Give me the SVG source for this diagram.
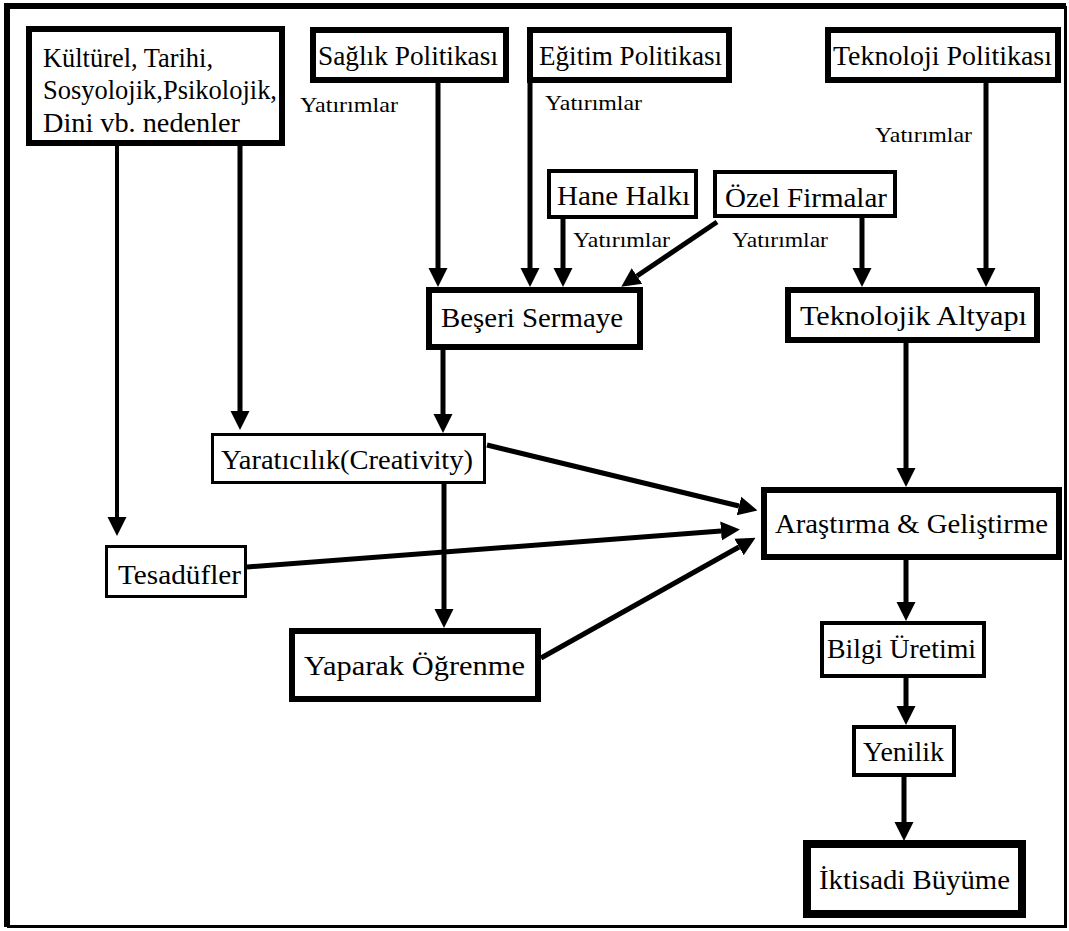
<svg xmlns="http://www.w3.org/2000/svg" width="1069" height="931" viewBox="0 0 1069 931">
<style>
.n{fill:#fff;stroke:#000}
.t{font-family:"Liberation Serif","Times New Roman",serif;font-size:27px;fill:#000}
.y{font-family:"Liberation Serif","Times New Roman",serif;font-size:21px;fill:#000}
.c line{stroke:#000;stroke-width:5;marker-end:url(#ah)}
</style>
<defs>
<marker id="ah" viewBox="0 0 10 10" refX="0" refY="5" markerUnits="userSpaceOnUse" markerWidth="19" markerHeight="30" orient="auto">
<path d="M0,0 L10,5 L0,10 z" fill="#000"/>
</marker>
</defs>
<rect x="0" y="0" width="1069" height="931" fill="#fff"/>
<g id="frame" fill="none" stroke="#000">
<path d="M7,927 V6 H1066" stroke-width="6"/>
<path d="M1065.5,6 V926.5 H7" stroke-width="3"/>
</g>
<g class="c" id="connectors">
<line x1="117" y1="146" x2="117" y2="517" style="stroke-width:4"/>
<line x1="240" y1="146" x2="240" y2="411"/>
<line x1="438" y1="83" x2="438" y2="268"/>
<line x1="530" y1="83" x2="530" y2="268"/>
<line x1="563" y1="219" x2="563" y2="268"/>
<line x1="717" y1="222" x2="637" y2="276"/>
<line x1="862" y1="218" x2="862" y2="268"/>
<line x1="986" y1="83" x2="986" y2="268"/>
<line x1="443" y1="350" x2="443" y2="414"/>
<line x1="906" y1="343" x2="906" y2="468"/>
<line x1="444" y1="484" x2="444" y2="609"/>
<line x1="487" y1="445" x2="739" y2="506"/>
<line x1="247" y1="567" x2="721" y2="531"/>
<line x1="541" y1="658" x2="739" y2="547"/>
<line x1="906" y1="560" x2="906" y2="602"/>
<line x1="906" y1="678" x2="906" y2="706"/>
<line x1="904" y1="777" x2="904" y2="822"/>
</g>
<g id="kulturel"><rect class="n" x="29" y="29" width="253" height="114" stroke-width="6"/>
<text class="t" x="43" y="67" textLength="170" lengthAdjust="spacingAndGlyphs">Kültürel, Tarihi,</text>
<text class="t" x="43" y="99" textLength="234" lengthAdjust="spacingAndGlyphs">Sosyolojik,Psikolojik,</text>
<text class="t" x="43" y="132" textLength="197" lengthAdjust="spacingAndGlyphs">Dini vb. nedenler</text></g>
<g id="saglik"><rect class="n" x="313" y="30" width="193" height="50" stroke-width="6"/>
<text class="t" x="318" y="65" textLength="180" lengthAdjust="spacingAndGlyphs">Sağlık Politikası</text></g>
<g id="egitim"><rect class="n" x="530" y="30" width="199" height="50" stroke-width="6"/>
<text class="t" x="539" y="65" textLength="183" lengthAdjust="spacingAndGlyphs">Eğitim Politikası</text></g>
<g id="teknoloji"><rect class="n" x="828" y="30" width="230" height="50" stroke-width="6"/>
<text class="t" x="833" y="65" textLength="219" lengthAdjust="spacingAndGlyphs">Teknoloji Politikası</text></g>
<g id="hane"><rect class="n" x="549" y="171" width="147" height="46" stroke-width="4"/>
<text class="t" x="557" y="205" textLength="133" lengthAdjust="spacingAndGlyphs">Hane Halkı</text></g>
<g id="ozel"><rect class="n" x="715" y="172" width="180" height="44" stroke-width="4"/>
<text class="t" x="725" y="207" textLength="162" lengthAdjust="spacingAndGlyphs">Özel Firmalar</text></g>
<g id="beseri"><rect class="n" x="429" y="290" width="211" height="57" stroke-width="6"/>
<text class="t" x="441" y="327" textLength="182" lengthAdjust="spacingAndGlyphs">Beşeri Sermaye</text></g>
<g id="altyapi"><rect class="n" x="788" y="290" width="249" height="50" stroke-width="6"/>
<text class="t" x="800" y="325" textLength="227" lengthAdjust="spacingAndGlyphs">Teknolojik Altyapı</text></g>
<g id="yaraticilik"><rect class="n" x="212.5" y="434.5" width="272" height="48" stroke-width="3"/>
<text class="t" x="221" y="469" textLength="252" lengthAdjust="spacingAndGlyphs">Yaratıcılık(Creativity)</text></g>
<g id="tesadufler"><rect class="n" x="106.5" y="546.5" width="139" height="50" stroke-width="3"/>
<text class="t" x="118" y="584" textLength="123" lengthAdjust="spacingAndGlyphs">Tesadüfler</text></g>
<g id="yaparak"><rect class="n" x="292" y="631" width="246" height="68" stroke-width="6"/>
<text class="t" x="304" y="675" textLength="221" lengthAdjust="spacingAndGlyphs">Yaparak Öğrenme</text></g>
<g id="arge"><rect class="n" x="764" y="490" width="295" height="67" stroke-width="6"/>
<text class="t" x="775" y="533" textLength="273" lengthAdjust="spacingAndGlyphs">Araştırma &amp; Geliştirme</text></g>
<g id="bilgi"><rect class="n" x="822" y="623" width="162" height="53" stroke-width="4"/>
<text class="t" x="827" y="658" textLength="149" lengthAdjust="spacingAndGlyphs">Bilgi Üretimi</text></g>
<g id="yenilik"><rect class="n" x="854" y="727" width="100" height="48" stroke-width="4"/>
<text class="t" x="863" y="761" textLength="81" lengthAdjust="spacingAndGlyphs">Yenilik</text></g>
<g id="buyume"><rect class="n" x="807" y="844" width="215" height="70" stroke-width="8"/>
<text class="t" x="819" y="889" textLength="191" lengthAdjust="spacingAndGlyphs">İktisadi Büyüme</text></g>
<g id="labels">
<text class="y" x="300" y="112" textLength="98" lengthAdjust="spacingAndGlyphs">Yatırımlar</text>
<text class="y" x="545" y="110" textLength="97" lengthAdjust="spacingAndGlyphs">Yatırımlar</text>
<text class="y" x="573" y="247" textLength="97" lengthAdjust="spacingAndGlyphs">Yatırımlar</text>
<text class="y" x="732" y="247" textLength="96" lengthAdjust="spacingAndGlyphs">Yatırımlar</text>
<text class="y" x="875" y="142" textLength="97" lengthAdjust="spacingAndGlyphs">Yatırımlar</text>
</g>
</svg>
